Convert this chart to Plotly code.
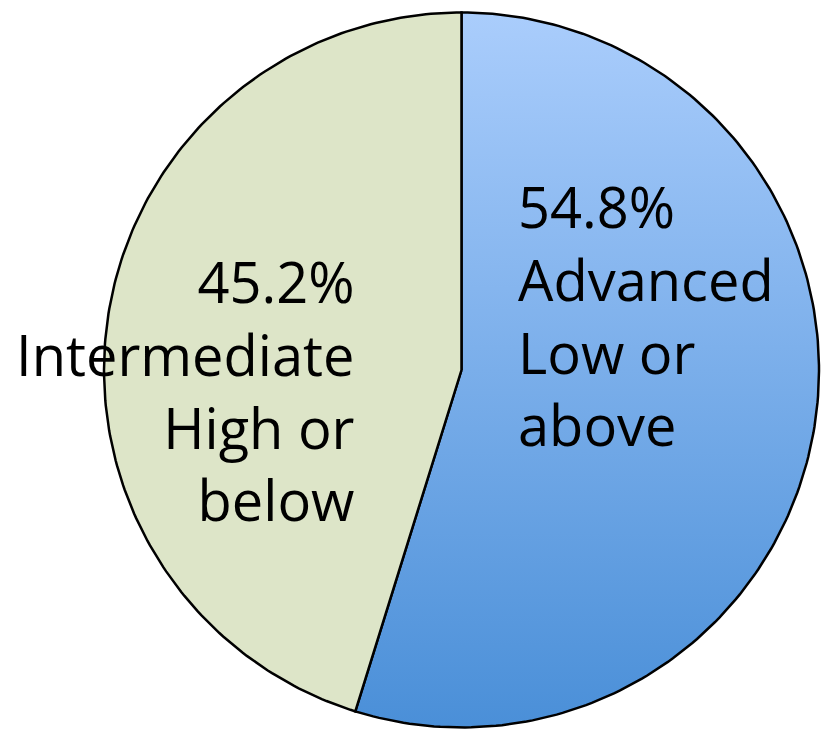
import numpy as np
import plotly.graph_objects as go

labels = ["Advanced Low or above", "Intermediate High or below"]
values = [54.8, 45.2]
label_text = ["54.8%<br>Advanced<br>Low or<br>above", "45.2%<br>Intermediate<br>High or<br>below"]

W, H = 825, 736
cx, cy, R = 461.5, H - 370, 357.5

fills = [
    dict(type="vertical", colorscale=[[0, "#4A8FD8"], [1, "#AACDFC"]]),
    None,
]
solid = ["#4A8FD8", "#DDE5C8"]

fig = go.Figure()
total = sum(values)
start = 0.0
for i, v in enumerate(values):
    a0 = start / total * 2 * np.pi
    a1 = (start + v) / total * 2 * np.pi
    t = np.linspace(a0, a1, 200)
    xs = np.concatenate([[cx], cx + R * np.sin(t), [cx]])
    ys = np.concatenate([[cy], cy + R * np.cos(t), [cy]])
    kw = dict(fill="toself", mode="lines", line=dict(color="black", width=2.5),
              hoverinfo="skip", showlegend=False, name=labels[i])
    if fills[i] is not None:
        kw["fillgradient"] = fills[i]
    else:
        kw["fillcolor"] = solid[i]
    fig.add_trace(go.Scatter(x=xs, y=ys, **kw))
    start += v

font = dict(family="Open Sans", size=56, color="black")
fig.add_annotation(x=516, y=H - 166, xref="x", yref="y", text=label_text[0],
                   showarrow=False, xanchor="left", yanchor="top", align="left", font=font)
fig.add_annotation(x=357, y=H - 241, xref="x", yref="y", text=label_text[1],
                   showarrow=False, xanchor="right", yanchor="top", align="right", font=font)

fig.update_xaxes(range=[0, W], visible=False, fixedrange=True)
fig.update_yaxes(range=[0, H], visible=False, fixedrange=True)
fig.update_layout(width=W, height=H, margin=dict(l=0, r=0, t=0, b=0),
                  paper_bgcolor="white", plot_bgcolor="white")
fig.write_html("out.html")
